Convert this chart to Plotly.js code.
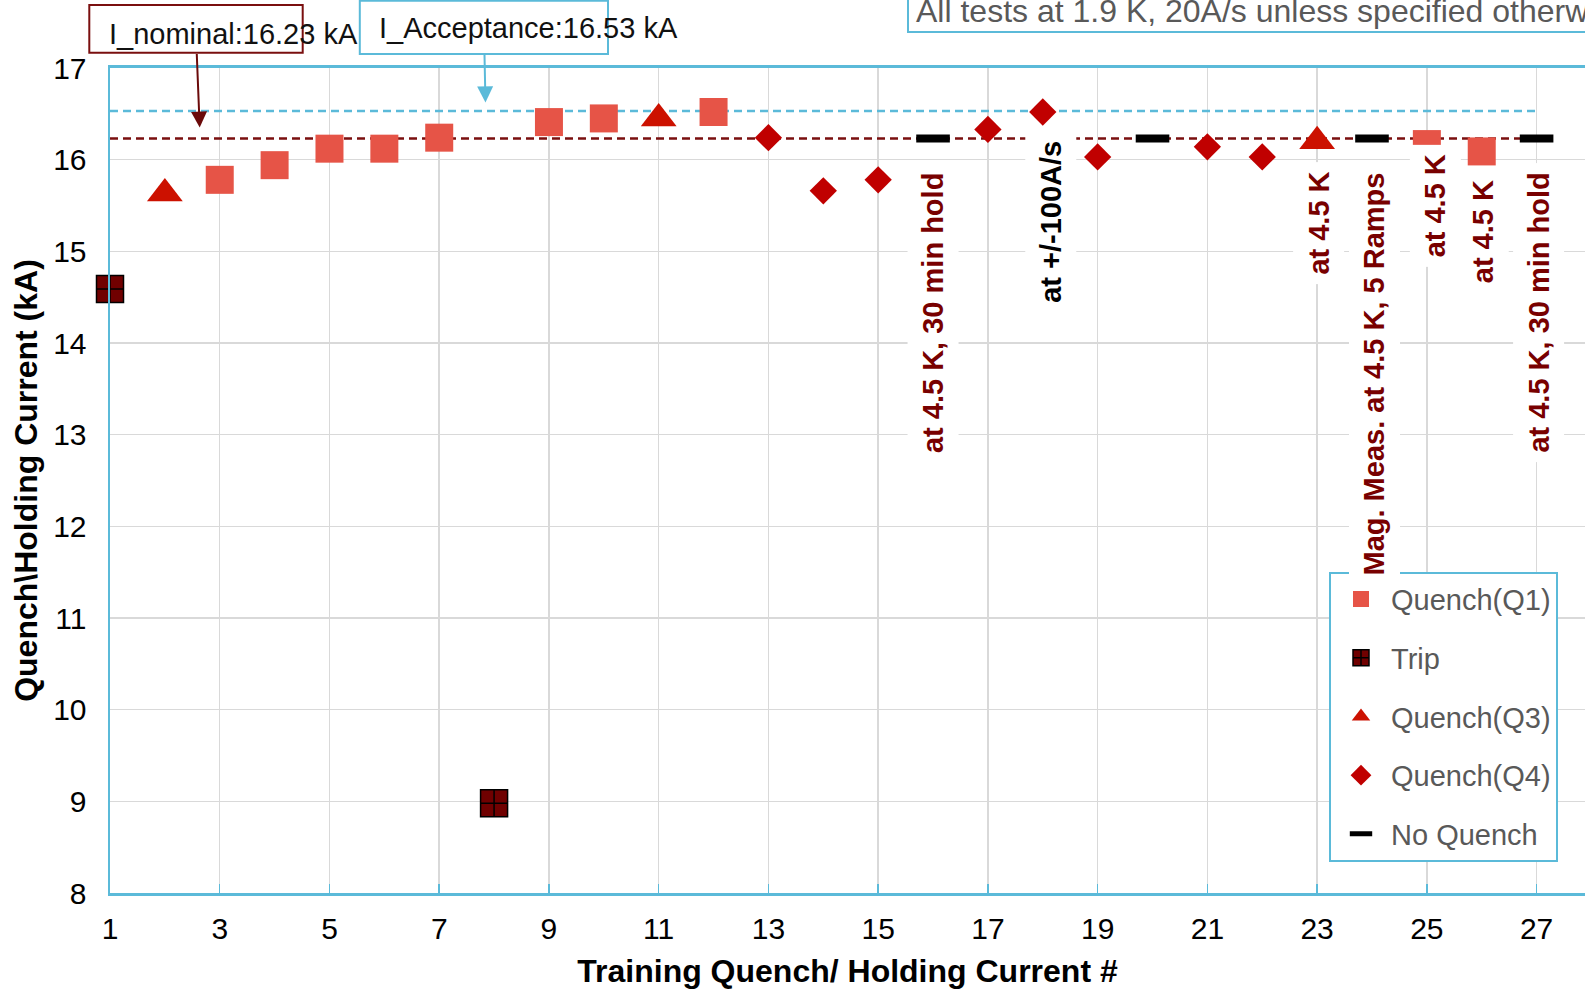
<!DOCTYPE html>
<html>
<head>
<meta charset="utf-8">
<script src="https://cdn.plot.ly/plotly-3.0.1.min.js"></script>
<style>
  html, body { margin: 0; padding: 0; background: #ffffff; }
  #chart { width: 1585px; height: 990px; }
</style>
</head>
<body>
<div id="chart"></div>
<script>
// ---------------- DATA ----------------
const q1X = [3, 4, 5, 6, 7, 9, 10, 12, 25, 26];
const q1Y = [15.78, 15.94, 16.12, 16.12, 16.24, 16.41, 16.45, 16.52, 16.17, 16.09];

const tripX = [1, 8];
const tripY = [14.59, 8.98];

const q3X = [2, 11, 23];
const q3Y = [15.63, 16.45, 16.20];

const q4X = [13, 14, 15, 17, 18, 19, 21, 22];
const q4Y = [16.24, 15.66, 15.78, 16.33, 16.52, 16.03, 16.14, 16.03];

const noQuenchX = [16, 20, 24, 27];
const noQuenchY = [16.23, 16.23, 16.23, 16.23];

const I_NOMINAL = 16.23;
const I_ACCEPTANCE = 16.53;
const refLineX = [1, 27];

const xTickVals = [1, 3, 5, 7, 9, 11, 13, 15, 17, 19, 21, 23, 25, 27];
const yTickVals = [8, 9, 10, 11, 12, 13, 14, 15, 16, 17];

const noteX = [16, 18, 23, 24, 25, 26, 27];
const noteText = [
  'at 4.5 K, 30 min hold',
  'at +/-100A/s',
  'at 4.5 K',
  'Mag. Meas. at 4.5 K, 5 Ramps',
  'at 4.5 K',
  'at 4.5 K',
  'at 4.5 K, 30 min hold'
];

const seriesNames = ['Quench(Q1)', 'Trip', 'Quench(Q3)', 'Quench(Q4)', 'No Quench'];
const nominalLabel = 'I_nominal:16.23 kA';
const acceptanceLabel = 'I_Acceptance:16.53 kA';
const noteTopRight = 'All tests at 1.9 K, 20A/s unless specified otherwise';
const xTitle = 'Training Quench/ Holding Current #';
const yTitle = 'Quench\\Holding Current (kA)';

// ---------------- STYLE / LAYOUT ----------------
const W = 1585, H = 990;
const M = { l: 110, r: 0, t: 68, b: 97 };
const PW = W - M.l - M.r, PH = H - M.t - M.b;
const px = x => (x - M.l) / PW;          // pixel -> paper x
const py = y => (H - M.b - y) / PH;      // pixel -> paper y
const yFromPx = p => 17 - (p - M.t) / (PH / 9);

const BLUE = '#5BBAD9';
const DARKRED = '#7A0F0F';
const LABELRED = '#780000';
const FONT = 'Liberation Sans, Arial, sans-serif';

const traces = [
  {
    x: refLineX, y: refLineX.map(() => I_ACCEPTANCE), mode: 'lines',
    line: { color: BLUE, width: 2.5, dash: '8px,5px' },
    showlegend: false, hoverinfo: 'skip'
  },
  {
    x: refLineX, y: refLineX.map(() => I_NOMINAL), mode: 'lines',
    line: { color: DARKRED, width: 2.5, dash: '8px,5px' },
    showlegend: false, hoverinfo: 'skip'
  },
  {
    name: seriesNames[0], x: q1X, y: q1Y, mode: 'markers', legendgroup: 'g1', cliponaxis: false,
    marker: { symbol: 'square', size: 28, color: '#E65447', line: { width: 0 } }
  },
  {
    name: seriesNames[1], x: tripX, y: tripY, mode: 'markers', legendgroup: 'g2', cliponaxis: false,
    marker: { symbol: 'square-cross', size: 27, color: '#700000', line: { color: '#000000', width: 1.5 } }
  },
  {
    name: seriesNames[2], x: q3X, y: q3Y, mode: 'markers', legendgroup: 'g3', cliponaxis: false,
    marker: { symbol: 'triangle-up', size: 31, color: '#CC1100', line: { width: 0 } }
  },
  {
    name: seriesNames[3], x: q4X, y: q4Y, mode: 'markers', legendgroup: 'g4', cliponaxis: false,
    marker: { symbol: 'diamond', size: 21, color: '#C00000', line: { width: 0 } }
  },
  {
    name: seriesNames[4], x: noQuenchX, y: noQuenchY, mode: 'markers', legendgroup: 'g5', cliponaxis: false,
    marker: { symbol: 'line-ew', size: 24, color: '#000000', line: { color: '#000000', width: 8 } }
  }
];

// vertical note layout (top edge in pixels, horizontal nudge in pixels)
const noteTopPx = [163, 131, 162, 162, 144, 170, 163];
const noteShift = [0, 8, 1, 2, 8, 1, 2];
const noteColor = [LABELRED, '#000000', LABELRED, LABELRED, LABELRED, LABELRED, LABELRED];

const annotations = noteX.map((xv, i) => ({
  x: xv, y: yFromPx(noteTopPx[i]), xref: 'x', yref: 'y',
  text: '<b>' + noteText[i] + '</b>', textangle: -90,
  xanchor: 'center', yanchor: 'top', xshift: noteShift[i],
  showarrow: false, bgcolor: '#ffffff', borderpad: 9,
  font: { family: FONT, size: 29, color: noteColor[i] }
}));

annotations.push(
  {
    xref: 'paper', yref: 'paper', x: px(107), y: py(34), xanchor: 'left', yanchor: 'middle',
    text: nominalLabel, showarrow: false, font: { family: FONT, size: 29, color: '#111111' }
  },
  {
    xref: 'paper', yref: 'paper', x: px(377), y: py(28), xanchor: 'left', yanchor: 'middle',
    text: acceptanceLabel, showarrow: false, font: { family: FONT, size: 29, color: '#111111' }
  },
  {
    xref: 'paper', yref: 'paper', x: px(914), y: py(11), xanchor: 'left', yanchor: 'middle',
    text: noteTopRight, showarrow: false, font: { family: FONT, size: 32, color: '#595959' }
  },
  {
    xref: 'x', yref: 'y', x: 2.635, y: I_NOMINAL + 0.12, text: '', showarrow: true,
    ax: -3, ay: -75, arrowcolor: '#6B0A0A', arrowwidth: 2, arrowhead: 2, arrowsize: 1.6, standoff: 0
  },
  {
    xref: 'x', yref: 'y', x: 7.843, y: I_ACCEPTANCE + 0.095, text: '', showarrow: true,
    ax: -1, ay: -49, arrowcolor: BLUE, arrowwidth: 2, arrowhead: 2, arrowsize: 1.6, standoff: 0
  }
);

const shapes = [
  { type: 'rect', xref: 'paper', yref: 'paper', x0: px(89.3), x1: px(302.7), y0: py(52.7), y1: py(5),
    line: { color: DARKRED, width: 2 }, fillcolor: 'rgba(0,0,0,0)' },
  { type: 'rect', xref: 'paper', yref: 'paper', x0: px(359.8), x1: px(608), y0: py(54), y1: py(0.8),
    line: { color: BLUE, width: 2 }, fillcolor: 'rgba(0,0,0,0)' },
  { type: 'rect', xref: 'paper', yref: 'paper', x0: px(908), x1: px(1620), y0: py(32), y1: py(-10),
    line: { color: BLUE, width: 2 }, fillcolor: 'rgba(0,0,0,0)' }
];

const layout = {
  width: W, height: H,
  margin: M,
  paper_bgcolor: '#ffffff', plot_bgcolor: '#ffffff',
  font: { family: FONT, size: 28, color: '#000000' },
  showlegend: true,
  legend: {
    x: px(1329), y: py(571.7), xanchor: 'left', yanchor: 'top',
    bgcolor: '#ffffff', bordercolor: BLUE, borderwidth: 2,
    font: { family: FONT, size: 29, color: '#595959' },
    traceorder: 'grouped', tracegroupgap: 18, itemwidth: 50
  },
  xaxis: {
    range: [1, 1 + PW / ((1536.2 - 109.6) / 26)],
    tickvals: xTickVals, ticktext: xTickVals.map(String),
    showgrid: true, gridcolor: '#D9D9D9', gridwidth: 1.5,
    zeroline: false, showline: true, linecolor: BLUE, linewidth: 3, mirror: true,
    ticks: 'inside', ticklen: 9, tickcolor: BLUE, tickwidth: 1.5,
    ticklabelstandoff: 7, automargin: false,
    tickfont: { family: FONT, size: 30, color: '#000000' },
    title: { text: '<b>' + xTitle + '</b>', font: { family: FONT, size: 32, color: '#000000' }, standoff: 16 }
  },
  yaxis: {
    range: [8, 17], tickvals: yTickVals,
    showgrid: true, gridcolor: '#D9D9D9', gridwidth: 1.5,
    zeroline: false, showline: true, linecolor: BLUE, linewidth: 2.5, mirror: false,
    ticks: '', ticklabelstandoff: 15, automargin: false,
    tickfont: { family: FONT, size: 30, color: '#000000' },
    title: { text: '<b>' + yTitle + '</b>', font: { family: FONT, size: 32, color: '#000000' }, standoff: 6 }
  },
  annotations: annotations,
  shapes: shapes
};

Plotly.newPlot('chart', traces, layout, { displayModeBar: false, staticPlot: true });
</script>
</body>
</html>
